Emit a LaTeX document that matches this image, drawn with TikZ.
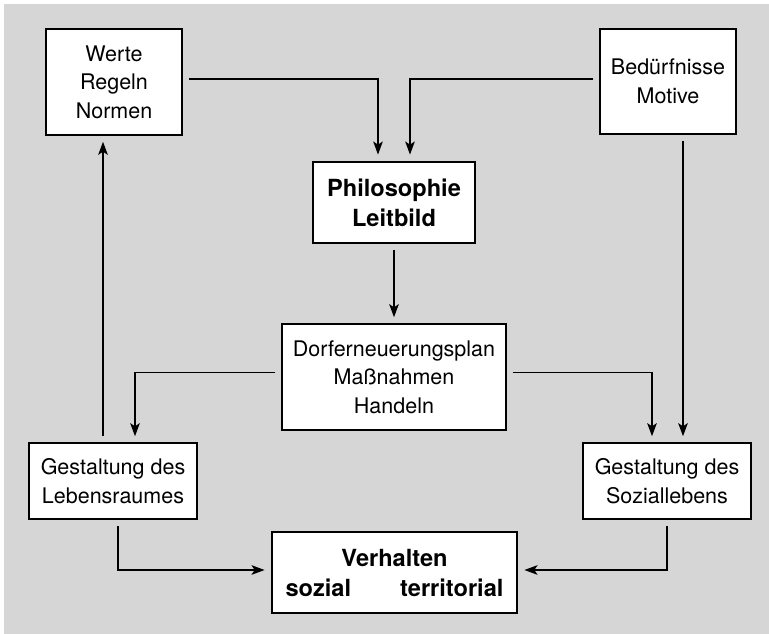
\documentclass[tikz,border=0pt]{standalone}
\usepackage{fontspec}
\setmainfont{TeX Gyre Heros}
\usetikzlibrary{arrows.meta}
\tikzset{
  plainbox/.style={draw=black, fill=white, line width=1.5pt, inner sep=0pt, align=center,
    font=\fontsize{21.5}{28.5}\selectfont},
  boldbox/.style={draw=black, fill=white, line width=2.8pt, inner sep=0pt, align=center,
    font=\fontsize{23.6}{30}\selectfont\bfseries},
  arr/.style={line width=1.8pt, -{Stealth[length=13pt,width=9.5pt,inset=3pt]},
    shorten >=6pt, shorten <=6pt},
}
\begin{document}
\begin{tikzpicture}[x=1pt,y=-1pt]
\useasboundingbox (0,0) rectangle (769,634);
\fill[white] (0,0) rectangle (769,634);
\fill[black!16] (4,4) rectangle (769,634);

\node[plainbox, minimum width=136pt, minimum height=106pt] (werte) at (114,82) {Werte\\Regeln\\Normen};
\node[plainbox, minimum width=136pt, minimum height=105pt] (bed) at (668,81.5) {Bedürfnisse\\Motive};
\node[boldbox, minimum width=162pt, minimum height=81pt] (philo) at (394,202.5) {Philosophie\\Leitbild};
\node[plainbox, minimum width=224pt, minimum height=106pt] (dorf) at (394,377) {Dorferneuerungsplan\\Maßnahmen\\Handeln};
\node[plainbox, minimum width=168pt, minimum height=76pt] (leben) at (113,481) {Gestaltung des\\Lebensraumes};
\node[plainbox, minimum width=168pt, minimum height=76pt] (sozl) at (667,481) {Gestaltung des\\Soziallebens};
\node[boldbox, minimum width=245pt, minimum height=81pt] (verh) at (394.5,572.5) {Verhalten\\sozial\hspace{49pt}territorial};

\draw[arr] ([yshift=3pt]werte.east) -| ([xshift=-16pt]philo.north);
\draw[arr] ([yshift=2.5pt]bed.west) -| ([xshift=16pt]philo.north);
\draw[arr] (philo.south) -- (dorf.north);
\draw[arr] ([yshift=4.5pt]dorf.west) -| ([xshift=22pt]leben.north);
\draw[arr] ([yshift=4.5pt]dorf.east) -| ([xshift=-15pt]sozl.north);
\draw[arr] ([xshift=15pt]bed.south) -- ([xshift=15pt]bed.south |- sozl.north);
\draw[arr] ([xshift=-10pt]leben.north) -- ([xshift=-10pt]leben.north |- werte.south);
\draw[arr] ([xshift=5pt]leben.south) |- ([yshift=2.5pt]verh.west);
\draw[arr] (sozl.south) |- ([yshift=2.5pt]verh.east);
\end{tikzpicture}
\end{document}
